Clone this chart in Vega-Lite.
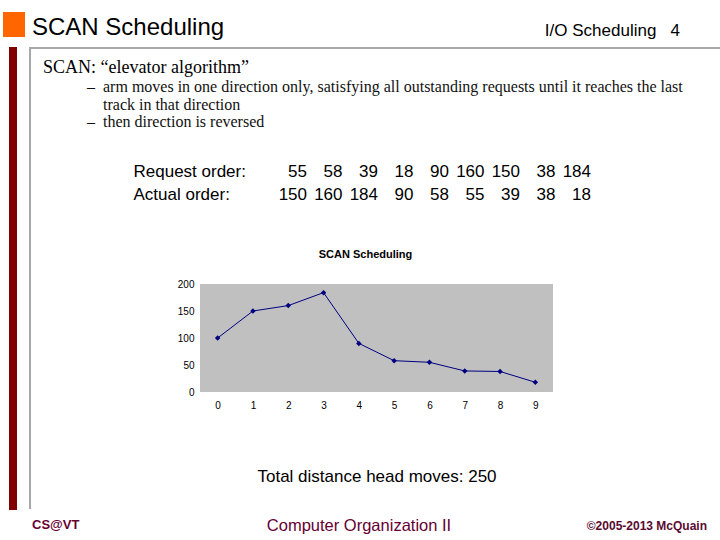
{
  "$schema": "https://vega.github.io/schema/vega-lite/v6.json",
  "background": "white",
  "padding": {"left": 3, "top": 12, "right": 0, "bottom": 0},
  "config": {"font": "Liberation Sans", "view": {"stroke": null}},
  "spacing": 7,
  "vconcat": [
    {
      "hconcat": [
        {"width": 22, "height": 25, "data": {"values": [{}]}, "mark": {"type": "rect", "color": "#ff6600"}, "encoding": {}},
        {
          "width": 648, "height": 25,
          "layer": [
            {
              "data": {"values": [{"heading": "SCAN Scheduling"}]},
              "mark": {"type": "text", "align": "left", "baseline": "alphabetic", "fontSize": 24, "dy": 10.5, "color": "black"},
              "encoding": {"text": {"field": "heading"}, "x": {"datum": 0, "type": "quantitative", "scale": {"domain": [0, 1]}, "axis": null}}
            },
            {
              "data": {"values": [{"heading": "I/O Scheduling\u00a0\u00a0\u00a04"}]},
              "mark": {"type": "text", "align": "right", "baseline": "alphabetic", "fontSize": 17, "dy": 11.5, "color": "black"},
              "encoding": {"text": {"field": "heading"}, "x": {"datum": 1, "type": "quantitative", "scale": {"domain": [0, 1]}, "axis": null}}
            }
          ]
        }
      ],
      "spacing": 7
    },
    {
      "hconcat": [
        {"width": 6, "height": 1, "data": {"values": [{}]}, "mark": {"type": "rect", "opacity": 0}, "encoding": {}},
        {"width": 8, "height": 463, "data": {"values": [{}]}, "mark": {"type": "rect", "color": "#800000"}, "encoding": {}},
        {"width": 12, "height": 1, "data": {"values": [{}]}, "mark": {"type": "rect", "opacity": 0}, "encoding": {}},
        {"width": 2, "height": 462, "data": {"values": [{}]}, "mark": {"type": "rect", "color": "#a8a8a8"}, "encoding": {}},
        {
          "vconcat": [
            {
              "width": 691, "height": 2,
              "data": {"values": [{}]},
              "mark": {"type": "rect", "color": "#a8a8a8"},
              "encoding": {},
              "title": {
                "text": "SCAN: “elevator algorithm”",
                "orient": "bottom", "anchor": "start", "frame": "group",
                "dx": 12, "offset": 10, "baseline": "top",
                "font": "Liberation Serif", "fontSize": 18, "fontWeight": "normal", "color": "black",
                "subtitle": [
                  "\u200b\u00a0\u00a0\u00a0\u00a0\u00a0\u00a0\u00a0\u00a0\u00a0\u00a0\u00a0–\u00a0\u00a0arm moves in one direction only, satisfying all outstanding requests until it reaches the last",
                  "\u200b\u00a0\u00a0\u00a0\u00a0\u00a0\u00a0\u00a0\u00a0\u00a0\u00a0\u00a0\u00a0\u00a0\u00a0\u00a0track in that direction",
                  "\u200b\u00a0\u00a0\u00a0\u00a0\u00a0\u00a0\u00a0\u00a0\u00a0\u00a0\u00a0–\u00a0\u00a0then direction is reversed"
                ],
                "subtitleFont": "Liberation Serif", "subtitleFontSize": 16, "subtitleColor": "#111111",
                "subtitleLineHeight": 17.5, "subtitlePadding": 2
              }
            },
            {
              "width": 691, "height": 85,
              "data": {"values": [
                {"order": "Request order:", "seq": 1, "track": 55},
                {"order": "Request order:", "seq": 2, "track": 58},
                {"order": "Request order:", "seq": 3, "track": 39},
                {"order": "Request order:", "seq": 4, "track": 18},
                {"order": "Request order:", "seq": 5, "track": 90},
                {"order": "Request order:", "seq": 6, "track": 160},
                {"order": "Request order:", "seq": 7, "track": 150},
                {"order": "Request order:", "seq": 8, "track": 38},
                {"order": "Request order:", "seq": 9, "track": 184},
                {"order": "Actual order:", "seq": 1, "track": 150},
                {"order": "Actual order:", "seq": 2, "track": 160},
                {"order": "Actual order:", "seq": 3, "track": 184},
                {"order": "Actual order:", "seq": 4, "track": 90},
                {"order": "Actual order:", "seq": 5, "track": 58},
                {"order": "Actual order:", "seq": 6, "track": 55},
                {"order": "Actual order:", "seq": 7, "track": 39},
                {"order": "Actual order:", "seq": 8, "track": 38},
                {"order": "Actual order:", "seq": 9, "track": 18}
              ]},
              "mark": {"type": "text", "align": "right", "baseline": "middle", "fontSize": 17, "color": "black"},
              "encoding": {
                "x": {"field": "seq", "type": "quantitative", "scale": {"domain": [-6.7746, 12.69], "nice": false, "zero": false}, "axis": null},
                "y": {
                  "field": "order", "type": "nominal", "sort": ["Request order:", "Actual order:"],
                  "scale": {"type": "band", "paddingInner": 0, "paddingOuter": 0.848, "align": 0.936, "round": false},
                  "axis": {"title": null, "orient": "left", "offset": -102, "labelAlign": "left", "labelBaseline": "middle", "labelPadding": 0, "ticks": false, "domain": false, "labelFontSize": 17, "labelColor": "black", "labelFont": "Liberation Sans"}
                },
                "text": {"field": "track", "type": "quantitative"}
              }
            },
            {
              "width": 353, "height": 108,
              "view": {"fill": "#c0c0c0", "stroke": null},
              "title": {"text": "SCAN Scheduling", "fontSize": 11, "fontWeight": "bold", "font": "Liberation Sans", "color": "black", "anchor": "middle", "dx": -11, "offset": 19},
              "data": {"values": [
                {"step": 0, "track": 100},
                {"step": 1, "track": 150},
                {"step": 2, "track": 160},
                {"step": 3, "track": 184},
                {"step": 4, "track": 90},
                {"step": 5, "track": 58},
                {"step": 6, "track": 55},
                {"step": 7, "track": 39},
                {"step": 8, "track": 38},
                {"step": 9, "track": 18}
              ]},
              "mark": {"type": "line", "color": "#000080", "strokeWidth": 1, "point": {"shape": "diamond", "size": 30, "filled": true, "color": "#000080", "opacity": 1}},
              "encoding": {
                "x": {"field": "step", "type": "ordinal", "scale": {"type": "point", "padding": 0.5},
                  "axis": {"labelAngle": 0, "labelFontSize": 10, "labelColor": "black", "labelPadding": 8, "ticks": false, "domain": false,
                    "title": "Total distance head moves:  250", "titleFontSize": 17, "titleFontWeight": "normal", "titleColor": "black", "titleFont": "Liberation Sans", "titlePadding": 58}},
                "y": {"field": "track", "type": "quantitative", "scale": {"domain": [0, 200]},
                  "axis": {"values": [0, 50, 100, 150, 200], "grid": false, "ticks": false, "domain": false, "labelFontSize": 10, "labelColor": "black", "labelPadding": 6, "title": null}}
              }
            }
          ],
          "spacing": 75,
          "bounds": "flush",
          "center": true
        }
      ],
      "spacing": 0
    },
    {
      "width": 704, "height": 20,
      "layer": [
        {
          "data": {"values": [{"label": "CS@VT"}]},
          "mark": {"type": "text", "align": "left", "baseline": "alphabetic", "dx": 29, "fontSize": 13, "fontWeight": "bold", "color": "#660033"},
          "encoding": {"text": {"field": "label"}, "x": {"datum": 0, "type": "quantitative", "scale": {"domain": [0, 1]}, "axis": null}}
        },
        {
          "data": {"values": [{"label": "Computer Organization II"}]},
          "mark": {"type": "text", "align": "center", "baseline": "alphabetic", "dx": 4, "dy": 1.7, "fontSize": 16.5, "color": "#660033"},
          "encoding": {"text": {"field": "label"}, "x": {"datum": 0.5, "type": "quantitative", "scale": {"domain": [0, 1]}, "axis": null}}
        },
        {
          "data": {"values": [{"label": "©2005-2013 McQuain"}]},
          "mark": {"type": "text", "align": "right", "baseline": "alphabetic", "dy": 0.7, "fontSize": 12, "fontWeight": "bold", "color": "#5a0a30"},
          "encoding": {"text": {"field": "label"}, "x": {"datum": 1, "type": "quantitative", "scale": {"domain": [0, 1]}, "axis": null}}
        }
      ]
    }
  ]
}
